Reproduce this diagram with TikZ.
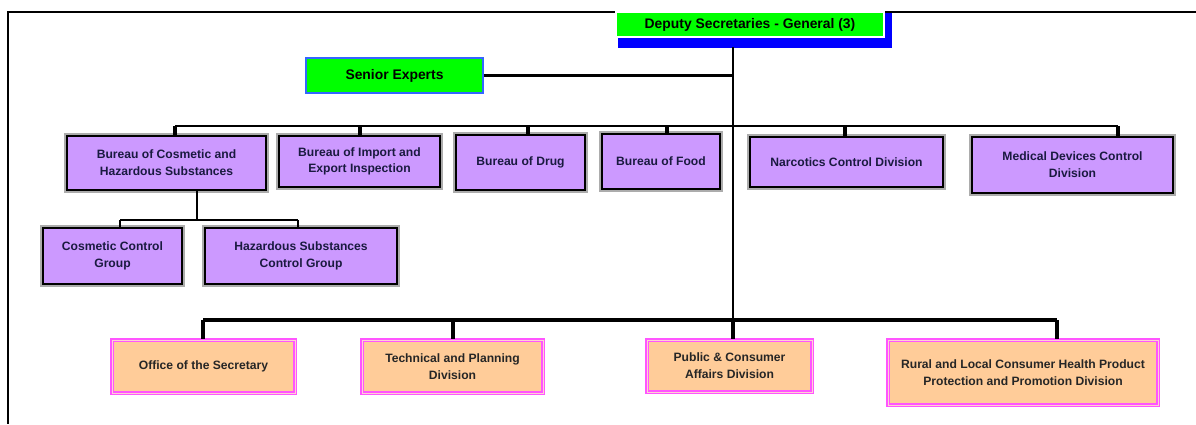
\documentclass[tikz,border=0pt]{standalone}
\usepackage{fontspec}
\setmainfont{Liberation Sans}
\usetikzlibrary{calc, backgrounds}

\definecolor{boxpurple}{HTML}{CC99FF}
\definecolor{boxorange}{HTML}{FFCC99}
\definecolor{boxgreen}{HTML}{00FF00}
\definecolor{pinkline}{HTML}{FF55FF}
\definecolor{seniorblue}{HTML}{3366FF}
\definecolor{navytext}{HTML}{1A1A40}

\newcommand{\boxfont}{\fontsize{6.9}{9.5}\selectfont\bfseries}
\newcommand{\headfont}{\fontsize{7.9}{9}\selectfont\bfseries}

\tikzset{
  purplebox/.style={draw=black, line width=0.9pt, fill=boxpurple,
    preaction={draw=gray!65, line width=3pt},
    text=navytext, align=center, font=\boxfont, inner sep=1pt},
  orangebox/.style={draw=pinkline, line width=0.8pt, double=pink!70,
    double distance=0.5pt, fill=boxorange, text=black!85,
    align=center, font=\boxfont, inner sep=1pt},
  greenbox/.style={fill=boxgreen, text=black, font=\headfont, inner sep=1pt},
  conn/.style={draw=black, line width=1.15pt},
  thickconn/.style={draw=black, line width=1.8pt}
}

\begin{document}
\begin{tikzpicture}[x=0.02cm, y=-0.02cm]
\useasboundingbox (0,0) rectangle (1196,424);

% frame
\draw[line width=1pt] (1196,12) -- (8,12) -- (8,424);

% top level
\node[greenbox, draw=white, line width=1.2pt, minimum width=5.36cm, minimum height=0.5cm] (dep) at (750,24.5) {Deputy Secretaries - General (3)};
\begin{scope}[on background layer]
\fill[blue] ($(dep.north west)+(3,1)$) rectangle ($(dep.south east)+(7,10)$);
\end{scope}
\node[greenbox, draw=seniorblue, line width=1.3pt, minimum width=3.54cm, minimum height=0.7cm] (sen) at (394.5,75.5) {Senior Experts};

% bureaus
\node[purplebox, minimum width=3.98cm, minimum height=1.08cm] (bch) at (166.5,163) {Bureau of Cosmetic and\\Hazardous Substances};
\node[purplebox, minimum width=3.22cm, minimum height=1.02cm] (imp) at (359.5,161.5) {Bureau of Import and\\Export Inspection};
\node[purplebox, minimum width=2.58cm, minimum height=1.1cm] (drug) at (520.5,162.5) {Bureau of Drug};
\node[purplebox, minimum width=2.36cm, minimum height=1.1cm] (food) at (661,161.5) {Bureau of Food};
\node[purplebox, minimum width=3.86cm, minimum height=1.0cm] (narc) at (846.5,162) {Narcotics Control Division};
\node[purplebox, minimum width=4.02cm, minimum height=1.12cm] (med) at (1072.5,165) {Medical Devices Control\\Division};

% groups
\node[purplebox, minimum width=2.78cm, minimum height=1.12cm] (ccg) at (112.5,256) {Cosmetic Control\\Group};
\node[purplebox, minimum width=3.84cm, minimum height=1.12cm] (hsg) at (301,256) {Hazardous Substances\\Control Group};

% support units
\node[orangebox, minimum width=3.66cm, minimum height=1.06cm] (off) at (203.5,366.5) {Office of the Secretary};
\node[orangebox, minimum width=3.62cm, minimum height=1.06cm] (tech) at (452.5,366.5) {Technical and Planning\\Division};
\node[orangebox, minimum width=3.3cm, minimum height=1.04cm] (pub) at (729.5,366) {Public \& Consumer\\Affairs Division};
\node[orangebox, minimum width=5.4cm, minimum height=1.3cm] (rur) at (1023,372.5) {Rural and Local Consumer Health Product\\Protection and Promotion Division};

% bus points
\coordinate (top) at (733,47);
\coordinate (low) at (733,320);
\coordinate (u1) at (175,126);
\coordinate (u2) at (360,126);
\coordinate (u3) at (528,126);
\coordinate (u4) at (667,126);
\coordinate (u5) at (845,126);
\coordinate (u6) at (1118,126);
\coordinate (s0) at (197,220);
\coordinate (s1) at (120,220);
\coordinate (s2) at (298,220);
\coordinate (l1) at (203,320);
\coordinate (l2) at (453,320);
\coordinate (l4) at (1057,320);

% connectors
\draw[conn] (top) -- (low);
\draw[thickconn] (sen.east) -- (sen.east -| top);
\draw[conn] (u1) -- (u6);
\foreach \p/\n in {u1/bch, u2/imp, u3/drug, u4/food, u5/narc, u6/med}
  \draw[thickconn] (\p) -- (\p |- \n.north);
\draw[conn] (s0 |- bch.south) -- (s0);
\draw[conn] (s1) -- (s2);
\draw[conn] (s1) -- (s1 |- ccg.north);
\draw[conn] (s2) -- (s2 |- hsg.north);
\draw[thickconn] (l1) -- (l4);
\foreach \p/\n in {l1/off, l2/tech, low/pub, l4/rur}
  \draw[thickconn] (\p) -- (\p |- \n.north);
\end{tikzpicture}
\end{document}
